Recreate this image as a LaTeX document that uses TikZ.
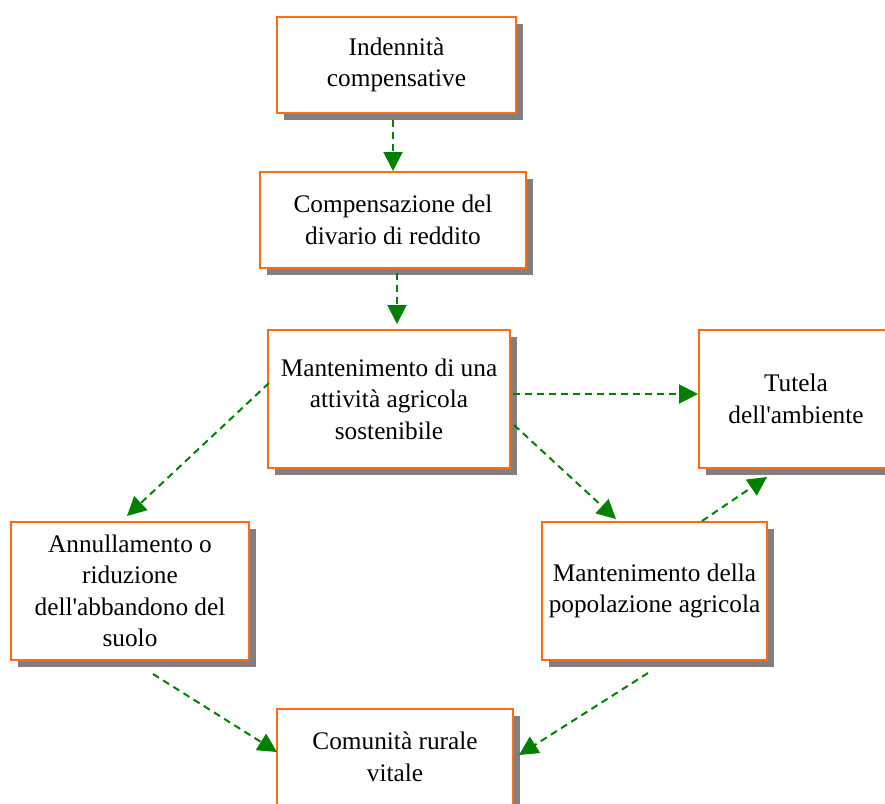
\documentclass[tikz,border=0pt]{standalone}
\usepackage{fontspec}
\setmainfont{Liberation Serif}[Ligatures=TeXOff]
\usetikzlibrary{arrows.meta,shadows}
\definecolor{boxorange}{RGB}{255,108,18}
\definecolor{arrgreen}{RGB}{0,128,0}
\definecolor{shadowgray}{RGB}{128,128,128}
\tikzset{
  box/.style={draw=boxorange, line width=2pt, fill=white, inner sep=0pt, align=center,
    font=\fontsize{25.3}{31.5}\selectfont,
    drop shadow={shadow xshift=7pt, shadow yshift=-7pt, fill=shadowgray, opacity=1}},
  arr/.style={draw=arrgreen, line width=2pt, dash pattern=on 7pt off 5pt,
    -{Triangle[length=19pt,width=19pt,fill=arrgreen]}}
}
\begin{document}
\begin{tikzpicture}[x=1pt,y=-1pt]
\useasboundingbox (0,0) rectangle (885,803);
\node[box, minimum width=239pt, minimum height=96pt] (n1) at (396.5,65) {Indennità\\compensative};
\node[box, minimum width=266pt, minimum height=96pt] (n2) at (393,220) {Compensazione del\\divario di reddito};
\node[box, minimum width=242pt, minimum height=138pt] (n3) at (389,399) {Mantenimento di una\\attività agricola\\sostenibile};
\node[box, minimum width=194pt, minimum height=138pt] (n4) at (796,399) {Tutela\\dell'ambiente};
\node[box, minimum width=238pt, minimum height=138pt] (n5) at (130,591) {Annullamento o\\riduzione\\dell'abbandono del\\suolo};
\node[box, minimum width=225pt, minimum height=138pt] (n6) at (654.5,591) {Mantenimento della\\popolazione agricola};
\node[box, minimum width=236pt, minimum height=96pt] (n7) at (395,757) {Comunità rurale\\vitale};

\draw[arr] ([xshift=-3.5pt,yshift=-6pt]n1.south) -- (n2.north);
\draw[arr] ([xshift=4pt,yshift=-4pt]n2.south) -- ([xshift=8pt,yshift=5pt]n3.north);
\draw[arr] ([xshift=2pt,yshift=5pt]n3.east) -- ([yshift=5pt]n4.west);
\draw[arr] ([xshift=2pt,yshift=16pt]n3.west) -- ([xshift=-3pt,yshift=5pt]n5.north);
\draw[arr] ([xshift=3pt,yshift=-26pt]n3.east) -- ([xshift=-38.5pt,yshift=2pt]n6.north);
\draw[arr] ([xshift=47.5pt]n6.north) -- ([xshift=-29pt,yshift=-8pt]n4.south);
\draw[arr] ([xshift=23pt,yshift=-13pt]n5.south) -- ([xshift=1pt,yshift=5pt]n7.west);
\draw[arr] ([xshift=-6.5pt,yshift=-12pt]n6.south) -- ([xshift=5pt,yshift=2pt]n7.east);
\end{tikzpicture}
\end{document}
